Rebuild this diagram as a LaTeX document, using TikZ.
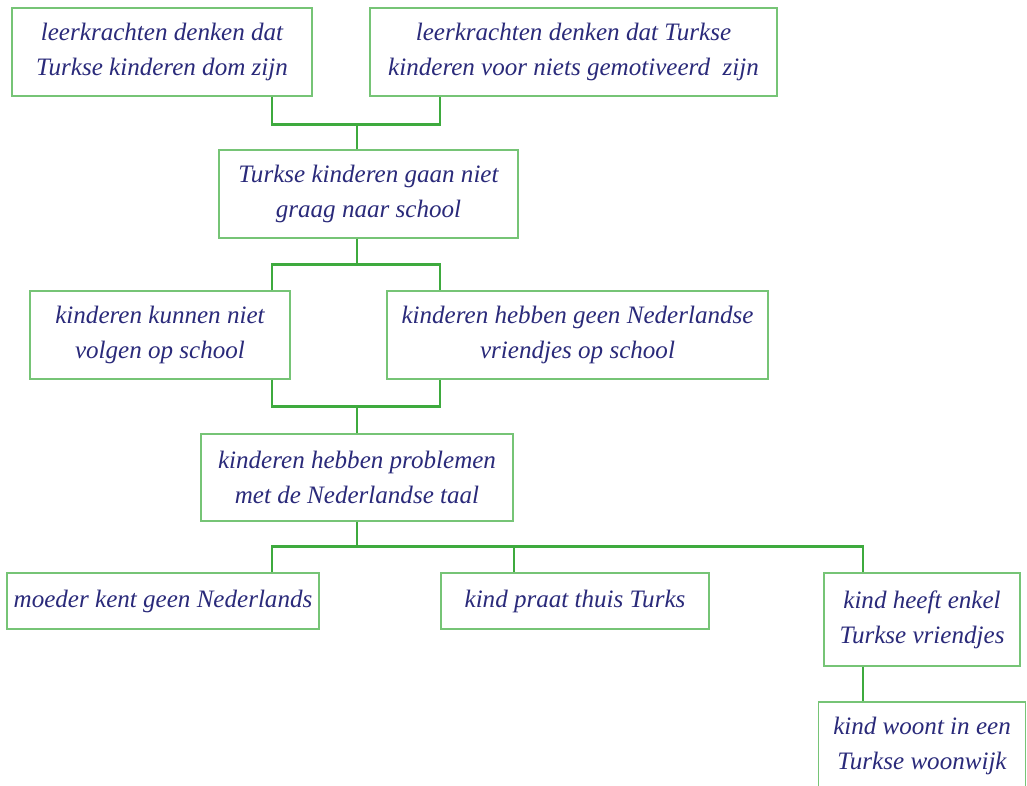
\documentclass[tikz,border=0pt]{standalone}
\usepackage{fontspec}
\setmainfont{Liberation Serif}
\usepackage{tikz}
\definecolor{kaderrand}{RGB}{118, 196, 118}
\definecolor{lijngroen}{RGB}{62, 170, 62}
\definecolor{tekstblauw}{RGB}{42, 42, 122}

\begin{document}
\begin{tikzpicture}[x=0.75pt, y=-0.75pt,
	oorzaak/.style={draw=kaderrand, line width=1.1pt, fill=white, text=tekstblauw, align=center, inner sep=0pt,
		font=\fontsize{18.8}{26}\selectfont\itshape},
	verbinding/.style={draw=lijngroen, line width=2.2pt}]
		
		\useasboundingbox (0,0) rectangle (1027,785);
		
		% --- Laag 1: de leerkrachten ---
		\node[oorzaak, minimum width=225pt, minimum height=66pt] (dom) at (162, 52)
		{leerkrachten denken dat \\ Turkse kinderen dom zijn};
		\node[oorzaak, minimum width=305.25pt, minimum height=66pt] (motivatie) at (573.5, 52)
		{leerkrachten denken dat Turkse \\ kinderen voor niets gemotiveerd~ zijn};
		
		% --- Laag 2 ---
		\node[oorzaak, minimum width=224.25pt, minimum height=66pt] (school) at (368.5, 194)
		{Turkse kinderen gaan niet \\ graag naar school};
		
		% --- Laag 3 ---
		\node[oorzaak, minimum width=195pt, minimum height=66pt] (volgen) at (160, 335)
		{kinderen kunnen niet \\ volgen op school};
		\node[oorzaak, minimum width=285.75pt, minimum height=66pt] (vriendjes) at (577.5, 335)
		{kinderen hebben geen Nederlandse \\ vriendjes op school};
		
		% --- Laag 4: het kernprobleem ---
		\node[oorzaak, minimum width=234pt, minimum height=65.25pt] (taal) at (357, 477.5)
		{kinderen hebben problemen \\ met de Nederlandse taal};
		
		% --- Laag 5: de oorzaken thuis ---
		\node[oorzaak, minimum width=234pt, minimum height=42pt] (moeder) at (163, 601)
		{moeder kent geen Nederlands};
		\node[oorzaak, minimum width=201pt, minimum height=42pt] (thuis) at (575, 601)
		{kind praat thuis Turks};
		\node[oorzaak, minimum width=147pt, minimum height=69.75pt] (enkel) at (922, 619.5)
		{kind heeft enkel \\ Turkse vriendjes};
		\node[oorzaak, minimum width=155pt, minimum height=66pt] (woonwijk) at (922, 746)
		{kind woont in een \\ Turkse woonwijk};
		
		% hulppunten voor de lijnen
		\path (taal.center) ++(-85,0) coordinate (links) ++(168,0) coordinate (rechts);
		\path (thuis.north) ++(-61,0) coordinate (hmidden);
		\path (enkel.north) ++(-59,0) coordinate (imidden);
		
		% --- Verbindingen ---
		\draw[verbinding] (dom.south -| links) -- ++(0,28) -| (motivatie.south -| rechts);
		\draw[verbinding] (school.north -| taal) -- ++(0,-26);
		\draw[verbinding] (school.south -| taal) -- ++(0,26) coordinate (v2);
		\draw[verbinding] (volgen.north -| links) |- (v2) -| (vriendjes.north -| rechts);
		\draw[verbinding] (volgen.south -| links) -- ++(0,27) -| (vriendjes.south -| rechts);
		\draw[verbinding] (taal.north) -- ++(0,-28);
		\draw[verbinding] (taal.south) -- ++(0,25) coordinate (v4);
		\draw[verbinding] (moeder.north -| links) |- (v4) -| (imidden);
		\draw[verbinding] (hmidden |- v4) -- (hmidden);
		\draw[verbinding] (enkel.south -| imidden) -- (woonwijk.north -| imidden);
		
	\end{tikzpicture}
\end{document}
